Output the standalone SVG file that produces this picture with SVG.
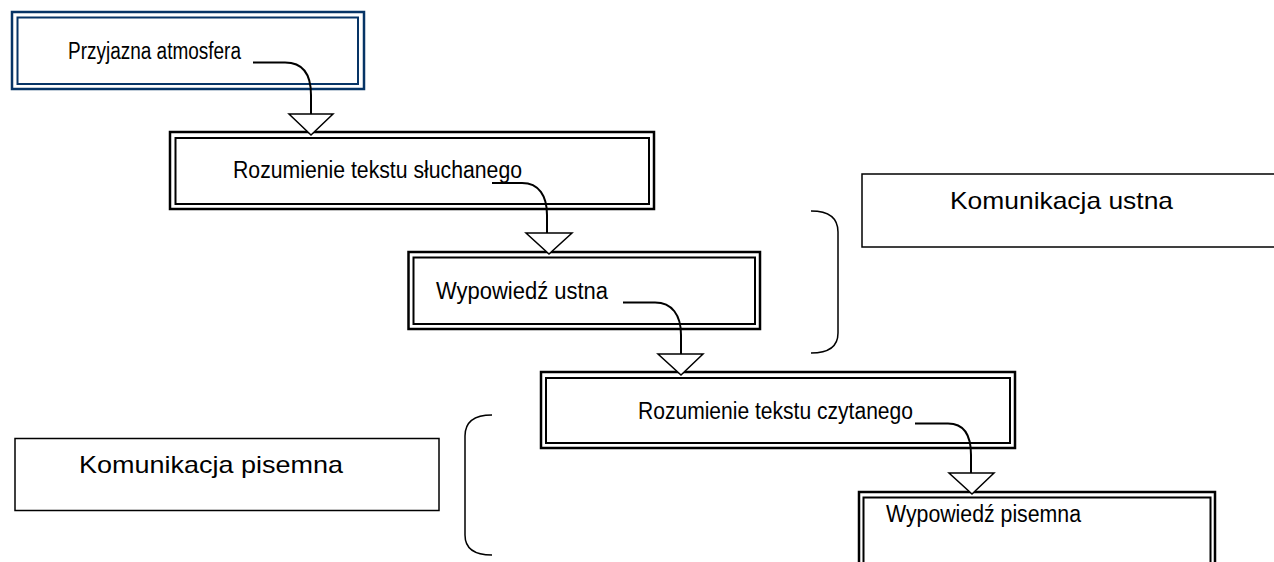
<svg xmlns="http://www.w3.org/2000/svg" width="1274" height="562" viewBox="0 0 1274 562">
<style>
.t{font-family:"Liberation Sans",Arial,sans-serif;font-size:23px;fill:#000}
.k{font-size:24px}
.ob{fill:none;stroke:#000;stroke-width:2.5}
.ib{fill:none;stroke:#000;stroke-width:2}
.obn{fill:none;stroke:#063466;stroke-width:2.5}
.ibn{fill:none;stroke:#063466;stroke-width:2}
.sb{fill:#fff;stroke:#000;stroke-width:1.5}
.c{fill:none;stroke:#000;stroke-width:2}
.hd{fill:#fff;stroke:#000;stroke-width:1.5}
.br{fill:none;stroke:#000;stroke-width:1.5}
</style>
<rect width="1274" height="562" fill="#fff"/>
<g id="n1">
<rect class="obn" x="12" y="12" width="352" height="77"/>
<rect class="ibn" x="17.5" y="17.5" width="340.5" height="66.5"/>
<text class="t" x="68" y="59" textLength="173" lengthAdjust="spacingAndGlyphs">Przyjazna atmosfera</text>
</g>
<g id="n2">
<rect class="ob" x="170" y="132" width="484" height="77"/>
<rect class="ib" x="175.5" y="138" width="473.5" height="66"/>
<text class="t" x="233" y="178" textLength="289" lengthAdjust="spacingAndGlyphs">Rozumienie tekstu słuchanego</text>
</g>
<g id="n3">
<rect class="ob" x="408.5" y="252" width="351.5" height="77"/>
<rect class="ib" x="413.5" y="257.5" width="341.5" height="66.5"/>
<text class="t" x="436" y="299" textLength="172" lengthAdjust="spacingAndGlyphs">Wypowiedź ustna</text>
</g>
<g id="n4">
<rect class="ob" x="541" y="372" width="474" height="76"/>
<rect class="ib" x="546" y="378" width="464" height="65"/>
<text class="t" x="638" y="419" textLength="275" lengthAdjust="spacingAndGlyphs">Rozumienie tekstu czytanego</text>
</g>
<g id="n5">
<rect class="ob" x="859" y="492" width="356" height="90"/>
<rect class="ib" x="863.5" y="497.5" width="347" height="80"/>
<text class="t" x="886" y="522" textLength="195" lengthAdjust="spacingAndGlyphs">Wypowiedź pisemna</text>
</g>
<g id="n6">
<rect class="sb" x="862" y="174" width="430" height="73"/>
<text class="t k" x="950" y="209" textLength="223" lengthAdjust="spacingAndGlyphs">Komunikacja ustna</text>
</g>
<g id="n7">
<rect class="sb" x="15" y="438.5" width="424" height="72"/>
<text class="t k" x="79" y="473" textLength="264" lengthAdjust="spacingAndGlyphs">Komunikacja pisemna</text>
</g>
<g id="brackets">
<path class="br" d="M811,211 Q838,211 838,232 L838,333 Q838,353 811,353"/>
<path class="br" d="M492,415 Q465,415 465,436 L465,535 Q465,555 492,555"/>
</g>
<g id="connectors">
<path class="c" d="M253,62.5 L285,62.5 C303,62.5 311,75 311,95 L311,114"/>
<polygon class="hd" points="289,114 333,114 311,135"/>
<path class="c" d="M492,183 L522,183 C539,183 547,196 547,215 L547,233"/>
<polygon class="hd" points="526,233 572,233 549,254"/>
<path class="c" d="M623,302.5 L655,302.5 C672,302.5 681,315 681,335 L681,354"/>
<polygon class="hd" points="658,354 703,354 681,375"/>
<path class="c" d="M915,423.5 L948,423.5 C964,423.5 971,435 971,455 L971,473"/>
<polygon class="hd" points="949,473 994,473 972,494"/>
</g>
</svg>
